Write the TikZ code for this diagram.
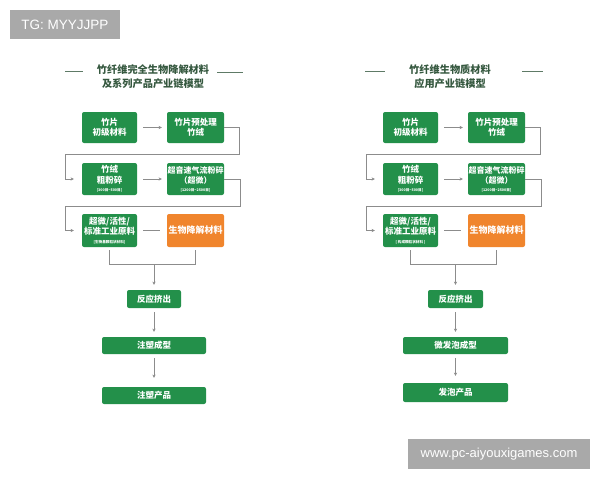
\documentclass[tikz,border=0pt]{standalone}
\usepackage{fontspec}
\setmainfont{Liberation Sans}
\newfontfamily\cjk{Noto Sans CJK SC}
\usetikzlibrary{arrows.meta,calc}
\definecolor{boxgreen}{HTML}{23904A}
\definecolor{boxorange}{HTML}{F0852D}
\definecolor{titlegreen}{HTML}{35583F}
\definecolor{decoline}{HTML}{5E7A66}
\definecolor{conngray}{HTML}{8C8C8C}
\definecolor{wmgray}{HTML}{A9A9A9}
\begin{document}
\begin{tikzpicture}[x=1pt,y=-1pt,
  gbox/.style={fill=boxgreen, rounded corners=2pt, text=white, align=center, inner sep=0pt,
    font=\cjk\bfseries\fontsize{8.5}{10.5}\selectfont},
  obox/.style={gbox, fill=boxorange, font=\cjk\bfseries\fontsize{9}{11}\selectfont},
  smallw/.style={minimum width=55pt},
  widew/.style={minimum width=57pt},
  conn/.style={draw=conngray, line width=0.6pt},
  arr/.style={conn, -{Stealth[length=3.2pt,width=3.2pt]}},
  titletext/.style={text=titlegreen, align=center, font=\cjk\bfseries\fontsize{10.2}{14}\selectfont},
  deco/.style={draw=decoline, line width=0.6pt},
  wm/.style={fill=wmgray, text=white, inner sep=0pt}
]
\useasboundingbox (0,0) rectangle (600,480);
\fill[white] (0,0) rectangle (600,480);
\newcommand{\tinyline}[1]{\\[-2pt]{\fontsize{3.6}{4}\selectfont #1}}

% ---------- watermarks ----------
\node[wm, minimum width=110pt, minimum height=29pt, font=\fontsize{13.5}{15}\selectfont] (tg) at (65,24.5) {TG: MYYJJPP};
\node[wm, minimum width=182pt, minimum height=30pt, font=\fontsize{13}{15}\selectfont] (site) at (499,454) {www.pc-aiyouxigames.com};

% ---------- left panel ----------
\node[titletext] (lt) at (153,77) {竹纤维完全生物降解材料\\及系列产品产业链模型};
\coordinate (ld1) at (65,71); \coordinate (ld2) at (83,71);
\coordinate (ld3) at (217,72); \coordinate (ld4) at (243,72);
\draw[deco] (ld1) -- (ld2);
\draw[deco] (ld3) -- (ld4);

\node[gbox, smallw, minimum height=31pt] (a1) at (109.5,127.5) {竹片\\初级材料};
\node[gbox, widew, minimum height=31pt] (a2) at (195.5,127.5) {竹片预处理\\竹绒};
\node[gbox, smallw, minimum height=32pt] (a3) at (109.5,179) {竹绒\\粗粉碎\tinyline{[300目\textasciitilde 500目]}};
\node[gbox, widew, minimum height=32pt, font=\cjk\bfseries\fontsize{8}{10}\selectfont] (a4) at (195.5,179) {超音速气流粉碎\\（超微）\tinyline{[1200目\textasciitilde 2500目]}};
\node[gbox, smallw, minimum height=33pt] (a5) at (109.5,230.5) {超微/活性/\\标准工业原料\tinyline{[生物基颗粒状材料]}};
\node[obox, widew, minimum height=33pt] (a6) at (195.5,230.5) {生物降解材料};
\node[gbox, minimum width=54pt, minimum height=18pt] (a7) at (154,299) {反应挤出};
\node[gbox, minimum width=104pt, minimum height=17pt] (a8) at (154,345.5) {注塑成型};
\node[gbox, minimum width=104pt, minimum height=17pt] (a9) at (154,395.5) {注塑产品};

\coordinate (la) at (239,127.5); \coordinate (lb) at (239,154); \coordinate (lc) at (65,154); \coordinate (ld) at (65,179);
\coordinate (le) at (240,179); \coordinate (lf) at (240,206); \coordinate (lg) at (65,206); \coordinate (lh) at (65,230.5);
\coordinate (li) at (109.5,264); \coordinate (lj) at (195.5,264); \coordinate (lk) at (154,264);

\draw[arr, shorten <=6pt, shorten >=5pt] (a1) -- (a2);
\draw[arr, shorten >=8pt] (a2.east) -- (la) -- (lb) -- (lc) -- (ld) -- (a3.west);
\draw[arr, shorten <=6pt, shorten >=5pt] (a3) -- (a4);
\draw[arr, shorten >=8pt] (a4.east) -- (le) -- (lf) -- (lg) -- (lh) -- (a5.west);
\draw[conn, shorten <=6pt, shorten >=7pt] (a5) -- (a6);
\draw[conn, shorten <=3pt] (a5.south) -- (li) -- (lj);
\draw[conn, shorten <=3pt] (a6.south) -- (lj);
\draw[arr, shorten >=5pt] (lk) -- (a7.north);
\draw[arr, shorten <=4pt, shorten >=5pt] (a7) -- (a8);
\draw[arr, shorten <=4pt, shorten >=9pt] (a8) -- (a9);

% ---------- right panel ----------
\node[titletext] (rt) at (450,77) {竹纤维生物质材料\\应用产业链模型};
\coordinate (rd1) at (365,71); \coordinate (rd2) at (385,71);
\coordinate (rd3) at (522,71); \coordinate (rd4) at (543,71);
\draw[deco] (rd1) -- (rd2);
\draw[deco] (rd3) -- (rd4);

\node[gbox, smallw, minimum height=31pt] (b1) at (410.5,127.5) {竹片\\初级材料};
\node[gbox, widew, minimum height=31pt] (b2) at (496.5,127.5) {竹片预处理\\竹绒};
\node[gbox, smallw, minimum height=32pt] (b3) at (410.5,179) {竹绒\\粗粉碎\tinyline{[300目\textasciitilde 500目]}};
\node[gbox, widew, minimum height=32pt, font=\cjk\bfseries\fontsize{8}{10}\selectfont] (b4) at (496.5,179) {超音速气流粉碎\\（超微）\tinyline{[1200目\textasciitilde 2500目]}};
\node[gbox, smallw, minimum height=33pt] (b5) at (410.5,230.5) {超微/活性/\\标准工业原料\tinyline{[ 构成颗粒状材料 ]}};
\node[obox, widew, minimum height=33pt] (b6) at (496.5,230.5) {生物降解材料};
\node[gbox, minimum width=55pt, minimum height=18pt] (b7) at (455.5,299) {反应挤出};
\node[gbox, minimum width=105pt, minimum height=17pt] (b8) at (455.5,345.5) {微发泡成型};
\node[gbox, minimum width=105pt, minimum height=19pt] (b9) at (455.5,392.5) {发泡产品};

\coordinate (ra) at (540,127.5); \coordinate (rb) at (540,154); \coordinate (rc) at (366,154); \coordinate (rd) at (366,179);
\coordinate (re) at (541,179); \coordinate (rf) at (541,206); \coordinate (rg) at (366,206); \coordinate (rh) at (366,230.5);
\coordinate (ri) at (410.5,264); \coordinate (rj) at (496.5,264); \coordinate (rk) at (455.5,264);

\draw[arr, shorten <=6pt, shorten >=5pt] (b1) -- (b2);
\draw[arr, shorten >=8pt] (b2.east) -- (ra) -- (rb) -- (rc) -- (rd) -- (b3.west);
\draw[arr, shorten <=6pt, shorten >=5pt] (b3) -- (b4);
\draw[arr, shorten >=8pt] (b4.east) -- (re) -- (rf) -- (rg) -- (rh) -- (b5.west);
\draw[conn, shorten <=6pt, shorten >=7pt] (b5) -- (b6);
\draw[conn, shorten <=3pt] (b5.south) -- (ri) -- (rj);
\draw[conn, shorten <=3pt] (b6.south) -- (rj);
\draw[arr, shorten >=5pt] (rk) -- (b7.north);
\draw[arr, shorten <=4pt, shorten >=5pt] (b7) -- (b8);
\draw[arr, shorten <=4pt, shorten >=7pt] (b8) -- (b9);
\end{tikzpicture}
\end{document}
